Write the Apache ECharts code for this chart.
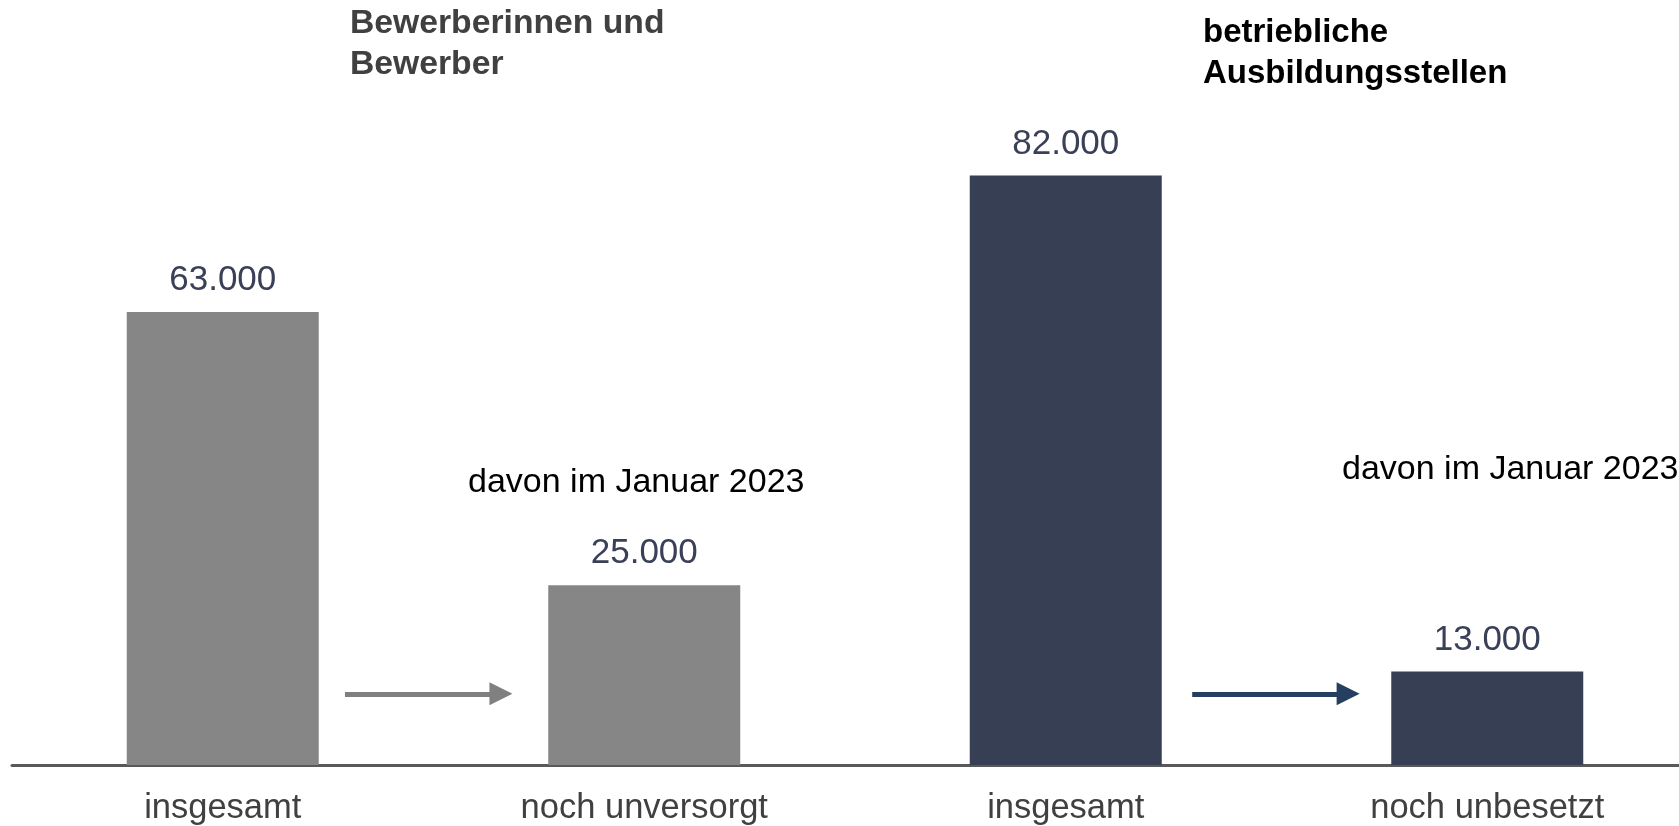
<!DOCTYPE html>
<html lang="de" style="height: 100%">

<head>
  <meta charset="utf-8">
  <title>Bewerber und Ausbildungsstellen</title>
  <script src="https://cdn.jsdelivr.net/npm/echarts@6.0.0/dist/echarts.min.js"></script>
</head>

<body style="height: 100%; margin: 0; background: #fff">
  <div id="chart" style="height: 826px; width: 1679px"></div>
  <script type="text/javascript">
    // Kategorien und Werte
    const categories = ['insgesamt', 'noch unversorgt', 'insgesamt', 'noch unbesetzt'];
    const values = [63000, 25000, 82000, 13000];
    const groupTitles = ['Bewerberinnen und\nBewerber', 'betriebliche\nAusbildungsstellen'];
    const subTitle = 'davon im Januar 2023';

    const GRAY = '#868686';
    const NAVY = '#373f55';
    const FONT = 'Liberation Sans, Arial, sans-serif';

    // 63000 -> "63.000"
    function fmt(v) {
      return String(v).replace(/\B(?=(\d{3})+(?!\d))/g, '.');
    }

    const chart = echarts.init(document.getElementById('chart'));
    const option = {
      animation: false,
      textStyle: { fontFamily: FONT },
      grid: {
        left: 12,
        right: -19,
        top: 46,
        bottom: 61,
        containLabel: false,
        outerBoundsMode: 'none'
      },
      xAxis: [{
          type: 'category',
          data: categories,
          axisTick: { show: false },
          axisLine: { lineStyle: { color: '#595959', width: 3 } },
          axisLabel: { fontSize: 34.5, color: '#404040', margin: 26, interval: 0 }
        },
        {
          // versteckte Hilfsachse fuer die Pfeile
          type: 'value',
          min: 0,
          max: 4,
          show: false
        }
      ],
      yAxis: {
        type: 'value',
        min: 0,
        max: 100000,
        show: false,
        splitLine: { show: false }
      },
      series: [{
          type: 'bar',
          data: values,
          barWidth: 192,
          itemStyle: {
            color: p => (p.dataIndex < 2 ? GRAY : NAVY)
          },
          label: {
            show: true,
            position: 'top',
            distance: 14,
            fontSize: 35,
            color: '#3a4058',
            formatter: p => fmt(p.value)
          }
        },
        {
          type: 'lines',
          coordinateSystem: 'cartesian2d',
          xAxisIndex: 1,
          symbol: ['none', 'triangle'],
          symbolSize: [23, 23],
          lineStyle: { width: 5, opacity: 1 },
          data: [{
              coords: [[0.79, 9900], [1.16, 9900]],
              lineStyle: { color: '#808080' },
              itemStyle: { color: '#808080' }
            },
            {
              coords: [[2.8, 9900], [3.17, 9900]],
              lineStyle: { color: '#243f60' },
              itemStyle: { color: '#243f60' }
            }
          ]
        }
      ],
      graphic: [{
          type: 'text',
          left: 350,
          top: 3,
          style: {
            text: groupTitles[0],
            font: 'bold 33.7px ' + FONT,
            lineHeight: 41,
            fill: '#404040'
          }
        },
        {
          type: 'text',
          left: 1203,
          top: 12,
          style: {
            text: groupTitles[1],
            font: 'bold 33px ' + FONT,
            lineHeight: 41,
            fill: '#000'
          }
        },
        {
          type: 'text',
          left: 468,
          top: 466,
          style: {
            text: subTitle,
            font: '34px ' + FONT,
            fill: '#000'
          }
        },
        {
          type: 'text',
          left: 1342,
          top: 453,
          style: {
            text: subTitle,
            font: '34px ' + FONT,
            fill: '#000'
          }
        }
      ]
    };
    chart.setOption(option);
  </script>
</body>

</html>
